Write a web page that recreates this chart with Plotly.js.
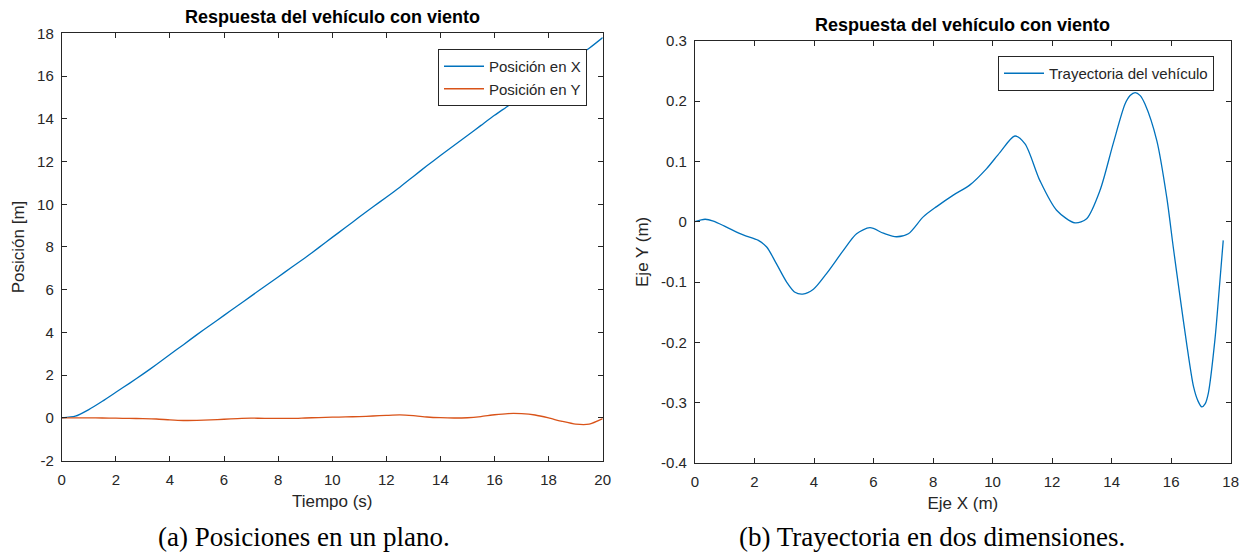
<!DOCTYPE html>
<html>
<head>
<meta charset="utf-8">
<script src="https://cdn.plot.ly/plotly-3.0.1.min.js"></script>
<style>
html,body{margin:0;padding:0;background:#fff;}
#chart{width:1245px;height:552px;}
</style>
</head>
<body>
<div id="chart"></div>
<script>
// ---- Left chart: positions vs time ----
const tiempo = [0,0.5,1,1.5,2,2.5,3,3.5,4,4.5,5,5.5,6,6.5,7,7.5,8,8.5,9,9.5,10,10.5,11,11.5,12,12.5,13,13.5,14,14.5,15,15.5,16,16.5,17,17.5,18,18.5,19,19.5,20];
const posicionX = [0,0.08,0.39,0.78,1.2,1.62,2.05,2.5,2.97,3.43,3.9,4.35,4.8,5.25,5.7,6.15,6.6,7.05,7.5,7.97,8.45,8.92,9.4,9.87,10.33,10.8,11.3,11.8,12.28,12.75,13.22,13.69,14.16,14.6,15.05,15.5,15.95,16.4,16.87,17.3,17.8];
const posicionY = [0,0.001,0.004,-0.002,-0.012,-0.022,-0.03,-0.048,-0.09,-0.118,-0.114,-0.09,-0.06,-0.03,-0.012,-0.015,-0.023,-0.023,-0.002,0.02,0.036,0.05,0.066,0.092,0.12,0.14,0.105,0.045,0.012,-0.002,0.01,0.065,0.15,0.205,0.2,0.138,0.0,-0.16,-0.29,-0.29,-0.03];

// ---- Right chart: trajectory ----
const trayX = [0,0.34,0.62,1.06,1.62,2.13,2.41,2.74,3.08,3.36,3.62,3.98,4.42,4.98,5.43,5.88,6.33,6.77,7.17,7.67,8.12,8.68,9.24,9.8,10.25,10.75,11.09,11.59,12.15,12.77,13.16,13.61,14.05,14.45,14.62,14.79,14.96,15.12,15.52,15.85,16.07,16.3,16.52,16.75,16.9,17.03,17.14,17.25,17.47,17.64,17.75];
const trayY = [0,0.004,0.001,-0.009,-0.022,-0.031,-0.042,-0.07,-0.1,-0.117,-0.12,-0.112,-0.086,-0.048,-0.02,-0.01,-0.019,-0.025,-0.02,0.008,0.025,0.044,0.061,0.088,0.115,0.142,0.129,0.068,0.019,-0.002,0.005,0.052,0.129,0.195,0.209,0.214,0.209,0.195,0.134,0.041,-0.042,-0.125,-0.202,-0.273,-0.297,-0.307,-0.302,-0.284,-0.196,-0.097,-0.031];

const ticksIzqY = [-2,0,2,4,6,8,10,12,14,16,18];
const ticksIzqYText = ['-2','0','2','4','6','8','10','12','14','16','18'];
const ticksDerY = [-0.4,-0.3,-0.2,-0.1,0,0.1,0.2,0.3];
const ticksDerYText = ['-0.4','-0.3','-0.2','-0.1','0','0.1','0.2','0.3'];

const titulo = 'Respuesta del vehículo con viento';
const BLUE = '#0072BD', ORANGE = '#D95319', AX = '#262626';
const FONT = 'Liberation Sans, Arial, sans-serif';
const SERIF = 'Liberation Serif, DejaVu Serif, serif';

const traces = [
  {x: tiempo, y: posicionX, type: 'scatter', mode: 'lines', name: 'Posición en X',
   line: {color: BLUE, width: 1.3, shape: 'spline', smoothing: 0.6}, xaxis: 'x', yaxis: 'y', legend: 'legend'},
  {x: tiempo, y: posicionY, type: 'scatter', mode: 'lines', name: 'Posición en Y',
   line: {color: ORANGE, width: 1.3, shape: 'spline', smoothing: 0.6}, xaxis: 'x', yaxis: 'y', legend: 'legend'},
  {x: trayX, y: trayY, type: 'scatter', mode: 'lines', name: 'Trayectoria del vehículo',
   line: {color: BLUE, width: 1.3, shape: 'spline', smoothing: 0.8}, xaxis: 'x2', yaxis: 'y2', legend: 'legend2'}
];

function axis(extra) {
  return Object.assign({
    showline: true, mirror: 'ticks', linecolor: AX, linewidth: 1,
    ticks: 'inside', ticklen: 5, tickwidth: 1, tickcolor: AX,
    showgrid: false, zeroline: false, fixedrange: true,
    tickfont: {family: FONT, size: 15, color: AX}
  }, extra);
}
const TF = {family: FONT, size: 17, color: AX};

const layout = {
  width: 1245, height: 552,
  margin: {l: 0, r: 0, t: 0, b: 0},
  paper_bgcolor: '#fff', plot_bgcolor: '#fff',
  font: {family: FONT, color: AX},
  xaxis: axis({domain: [0.0496, 0.4841], range: [0, 20], dtick: 2, tick0: 0, anchor: 'y', ticklabelstandoff: 5,
    title: {text: 'Tiempo (s)', font: TF, standoff: 8}}),
  yaxis: axis({domain: [0.1654, 0.9397], range: [-2, 18], tickmode: 'array', tickvals: ticksIzqY, ticktext: ticksIzqYText, anchor: 'x', ticklabelstandoff: 4,
    title: {text: 'Posición [m]', font: TF, standoff: 8}}),
  xaxis2: axis({domain: [0.5582, 0.9885], range: [0, 18], dtick: 2, tick0: 0, anchor: 'y2', ticklabelstandoff: 5,
    title: {text: 'Eje X (m)', font: TF, standoff: 8}}),
  yaxis2: axis({domain: [0.1612, 0.9263], range: [-0.4, 0.3], tickmode: 'array', tickvals: ticksDerY, ticktext: ticksDerYText, anchor: 'x2', ticklabelstandoff: 4,
    title: {text: 'Eje Y (m)', font: TF, standoff: 8}}),
  legend: {x: 587/1245, y: 1 - 49/552, xanchor: 'right', yanchor: 'top',
    bgcolor: '#fff', bordercolor: AX, borderwidth: 1,
    font: {family: FONT, size: 15, color: AX}, tracegroupgap: 0, itemwidth: 40},
  legend2: {x: 1214/1245, y: 1 - 56/552, xanchor: 'right', yanchor: 'top',
    bgcolor: '#fff', bordercolor: AX, borderwidth: 1,
    font: {family: FONT, size: 15, color: AX}, itemwidth: 40},
  annotations: [
    {text: '<b>' + titulo + '</b>', x: 332/1245, y: 1 - 17/552, xref: 'paper', yref: 'paper',
     xanchor: 'center', yanchor: 'middle', showarrow: false, font: {family: FONT, size: 18, color: '#000'}},
    {text: '<b>' + titulo + '</b>', x: 962/1245, y: 1 - 25/552, xref: 'paper', yref: 'paper',
     xanchor: 'center', yanchor: 'middle', showarrow: false, font: {family: FONT, size: 18, color: '#000'}},
    {text: '(a) Posiciones en un plano.', x: 304/1245, y: 1 - 537/552, xref: 'paper', yref: 'paper',
     xanchor: 'center', yanchor: 'middle', showarrow: false, font: {family: SERIF, size: 27, color: '#000'}},
    {text: '(b) Trayectoria en dos dimensiones.', x: 932/1245, y: 1 - 537/552, xref: 'paper', yref: 'paper',
     xanchor: 'center', yanchor: 'middle', showarrow: false, font: {family: SERIF, size: 27, color: '#000'}}
  ],
  showlegend: true
};

Plotly.newPlot('chart', traces, layout, {displayModeBar: false, staticPlot: true});
</script>
</body>
</html>
